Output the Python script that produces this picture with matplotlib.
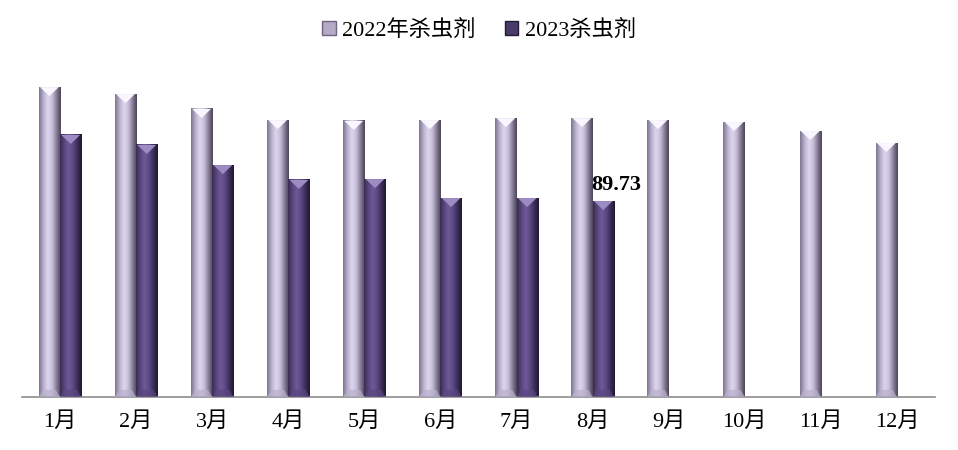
import numpy as np
import matplotlib.pyplot as plt
from matplotlib.colors import LinearSegmentedColormap
from matplotlib.patches import Polygon, Patch

plt.rcParams['font.family'] = ['Liberation Serif', 'Noto Sans CJK SC']

# the months and the two series
months = ["1月", "2月", "3月", "4月", "5月", "6月", "7月", "8月", "9月", "10月", "11月", "12月"]
pest_2022 = [141.9, 138.7, 131.9, 126.8, 126.4, 126.8, 127.7, 127.7, 126.8, 125.9, 121.8, 116.3]
pest_2023 = [120.0, 115.4, 106.2, 99.4, 99.8, 91.1, 91.1, 89.73]
series_names = ["2022年杀虫剂", "2023杀虫剂"]

# colours across the bar width (left edge -> highlight -> right edge)
light_cols = ["#7d7490", "#b9b0cc", "#ddd6ee", "#c9c0dc", "#8a8099", "#4a4456"]
dark_cols = ["#3a2c52", "#5a4680", "#6e5a96", "#5c4884", "#3c2e58", "#1f1830"]
light_top = "#f8f6ff"
dark_top = "#9c8cc2"

fig = plt.figure(figsize=(9.58, 4.50), dpi=100)
ax = fig.add_axes([22 / 958, 53 / 450, 913 / 958, 349.4 / 450])

x = np.arange(len(months))
width = 0.28
bars_a = ax.bar(x - width / 2, pest_2022, width, color="none", edgecolor="none")
bars_b = ax.bar(x[:len(pest_2023)] + width / 2, pest_2023, width, color="none", edgecolor="none")

ax.set_xlim(-0.5, len(months) - 0.5)
ax.set_ylim(0, 160)


def bevel(bars, cols, top_col):
    cmap = LinearSegmentedColormap.from_list("b", cols)
    grad = np.linspace(0, 1, 64).reshape(1, -1)
    # pixels -> data units for the bevel depth
    px_y = 160 / 349.4
    for b in bars:
        x0, w, h = b.get_x(), b.get_width(), b.get_height()
        ax.imshow(grad, cmap=cmap, extent=[x0, x0 + w, 0, h], aspect="auto",
                  interpolation="bicubic", zorder=2)
        d = 9 * px_y
        tri = Polygon([[x0 + w * 0.06, h], [x0 + w * 0.94, h], [x0 + w / 2, h - d]],
                      closed=True, facecolor=top_col, edgecolor="none", zorder=3)
        ax.add_patch(tri)
        bot = Polygon([[x0, 0], [x0 + w, 0], [x0 + w * 0.8, d * 0.8], [x0 + w * 0.2, d * 0.8]],
                      closed=True, facecolor=cols[1], edgecolor="none", zorder=3, alpha=0.7)
        ax.add_patch(bot)


bevel(bars_a, light_cols, light_top)
bevel(bars_b, dark_cols, dark_top)

# label on the last 2023 value
last = bars_b[-1]
ax.text(last.get_x() + last.get_width() / 2 + 0.17, last.get_height() + 3, f"{pest_2023[-1]:.2f}",
        ha="center", va="bottom", fontsize=16, fontweight="bold")

ax.set_xticks(x)
ax.set_xticklabels(months, fontsize=16)
ax.tick_params(axis="x", length=0, pad=11)
ax.set_yticks([])
for s in ["top", "left", "right"]:
    ax.spines[s].set_visible(False)
ax.spines["bottom"].set_color("#8c8c8c")
ax.spines["bottom"].set_linewidth(1.2)

handles = [Patch(facecolor="#b4aac6", edgecolor="#6c6480"),
           Patch(facecolor="#4a3a68", edgecolor="#241c34")]
fig.legend(handles, series_names, loc="upper center", bbox_to_anchor=(0.5, 1.0),
           ncol=2, frameon=False, fontsize=16, handlelength=0.6, handleheight=0.6,
           handletextpad=0.3, columnspacing=1.3)

fig.savefig("out.png", dpi=100)
